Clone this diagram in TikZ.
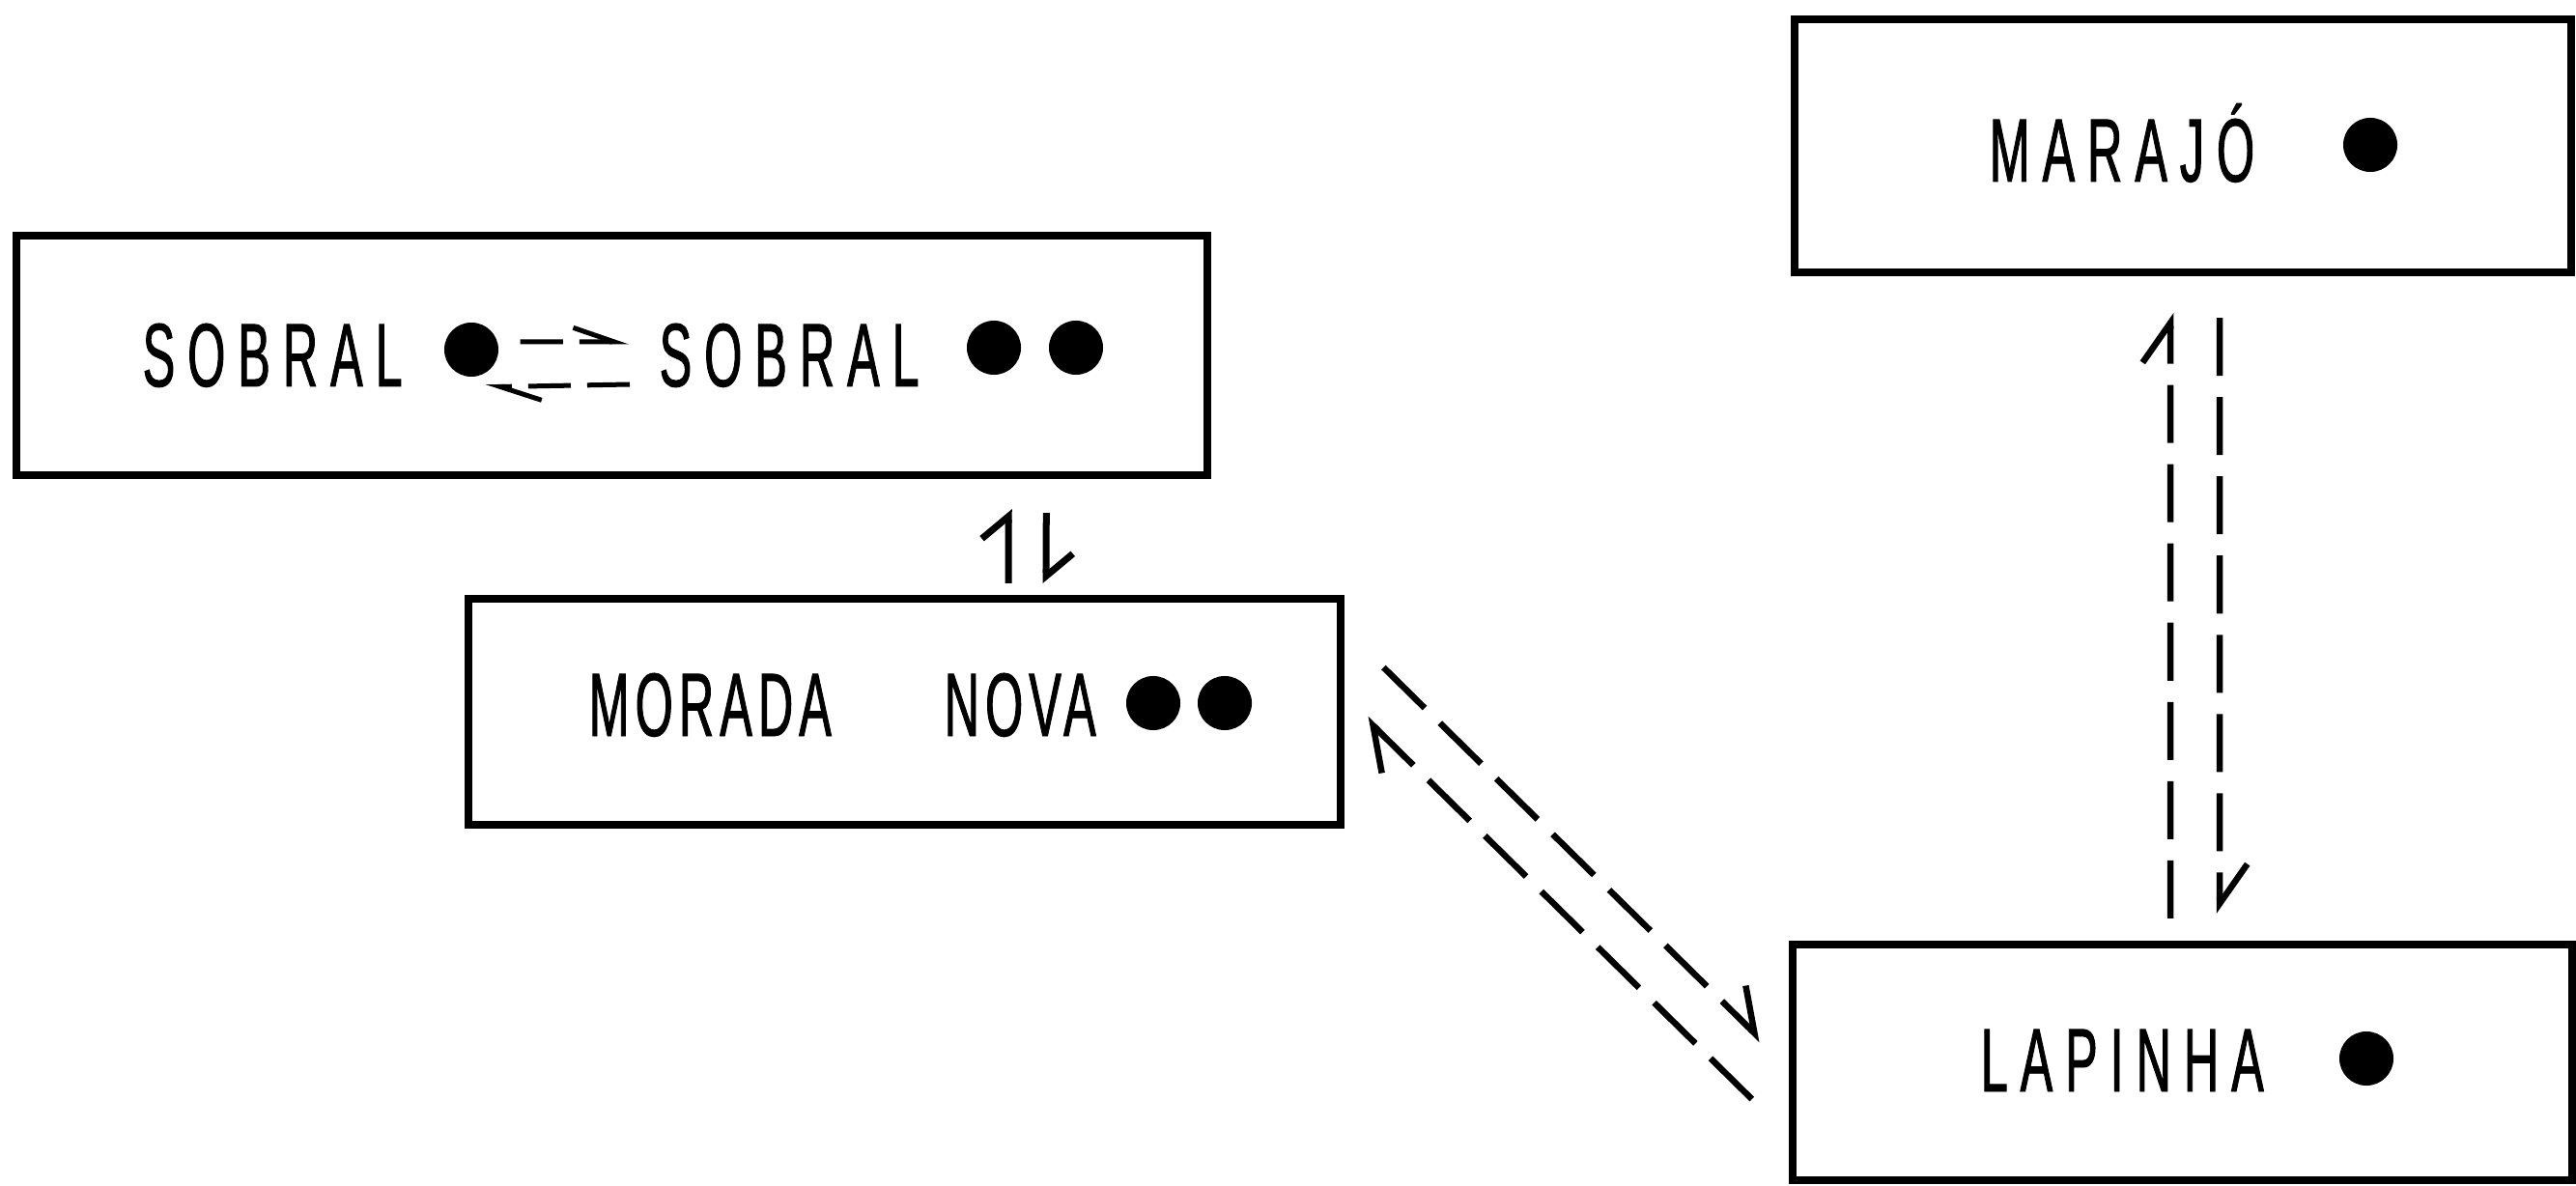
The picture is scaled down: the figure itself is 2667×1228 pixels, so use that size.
\documentclass[tikz,border=0pt]{standalone}
\usepackage{fontspec}
\usetikzlibrary{arrows.meta}
% narrow, widely tracked capitals for the place names
\newfontfamily\lettering[FakeStretch=0.54,FakeBold=1,LetterSpace=13.9]{Liberation Sans}
\begin{document}
\begin{tikzpicture}[x=0.01cm,y=-0.01cm]
\tikzset{
  box/.style={draw,line width=0.08cm,rectangle,inner sep=0pt},
  spot/.style={circle,fill,inner sep=0pt,minimum size=0.56cm},
  place/.style={font=\lettering\fontsize{26.5pt}{30pt}\selectfont,inner sep=0pt,anchor=base west},
  flow/.style={line width=0.065cm,-{Straight Barb[left,angle=70:0.5cm]}},
  flowsolid/.style={line width=0.07cm,-{Straight Barb[left,angle=100:0.36cm]}},
  flowsmall/.style={line width=0.05cm,-{Straight Barb[left,angle=38:0.45cm]}},
  longdash/.style={dash pattern=on 0.6cm off 0.22cm},
  shortdash/.style={dash pattern=on 0.44cm off 0.17cm},
}
\useasboundingbox (0,0) rectangle (2667,1228);

% boxes
\node[box,minimum width=12.32cm,minimum height=2.48cm] (sobral) at (633.5,368) {};
\node[box,minimum width=9.03cm,minimum height=2.34cm] (morada) at (936.5,737) {};
\node[box,minimum width=8.04cm,minimum height=2.62cm] (marajo) at (2260,151) {};
\node[box,minimum width=8.07cm,minimum height=2.44cm] (lapinha) at (2259.5,1100) {};

% names
\node[place] (sobrala) at (147,400) {SOBRAL};
\node[place] (sobralb) at (682,400) {SOBRAL};
\node[place] (moradatxt) at (609,762) {\addfontfeature{LetterSpace=6.5}MORADA};
\node[place] (novatxt) at (977,762) {\addfontfeature{LetterSpace=6.5}NOVA};
\node[place] (marajotxt) at (2059,188) {MARAJÓ};
\node[place] (lapinhatxt) at (2050,1130) {LAPINHA};

% dots
\node[spot] (s1) at (488,362) {};
\node[spot] (s2) at (1029,360) {};
\node[spot] (s3) at (1114,360) {};
\node[spot] (m1) at (1194,728) {};
\node[spot] (m2) at (1268,728) {};
\node[spot] (j1) at (2454,150) {};
\node[spot] (l1) at (2450,1096) {};

% exchange inside the Sobral box
\draw[flowsmall,shortdash] ([xshift=0.22cm,yshift=0.08cm]s1.east) -- ([xshift=-0.31cm,yshift=0.46cm]sobralb.base west);
\draw[flowsmall,shortdash] ([xshift=-0.30cm,yshift=0.02cm]sobralb.base west) -- ([xshift=0.15cm,yshift=-0.10cm]s1.south);

% Sobral <-> Morada Nova
\draw[flowsolid] ([xshift=1.075cm,yshift=0.12cm]morada.north) -- ([xshift=4.105cm,yshift=-0.31cm]sobral.south);
\draw[flowsolid] ([xshift=4.495cm,yshift=-0.35cm]sobral.south) -- ([xshift=1.465cm,yshift=0.12cm]morada.north);

% Marajo <-> Lapinha
\draw[flow,longdash] ([xshift=-0.125cm,yshift=0.23cm]lapinha.north) -- ([xshift=-0.13cm,yshift=-0.38cm]marajo.south);
\draw[flow,longdash] ([xshift=0.38cm,yshift=-0.43cm]marajo.south) -- ([xshift=0.385cm,yshift=0.28cm]lapinha.north);

% Morada Nova <-> Lapinha
\draw[flow,longdash] ([xshift=0.40cm,yshift=0.46cm]morada.east) -- ([xshift=-0.28cm,yshift=-1.03cm]lapinha.north west);
\draw[flow,longdash] ([xshift=-0.38cm,yshift=-1.64cm]lapinha.north west) -- ([xshift=0.22cm,yshift=-0.07cm]morada.east);
\end{tikzpicture}
\end{document}
